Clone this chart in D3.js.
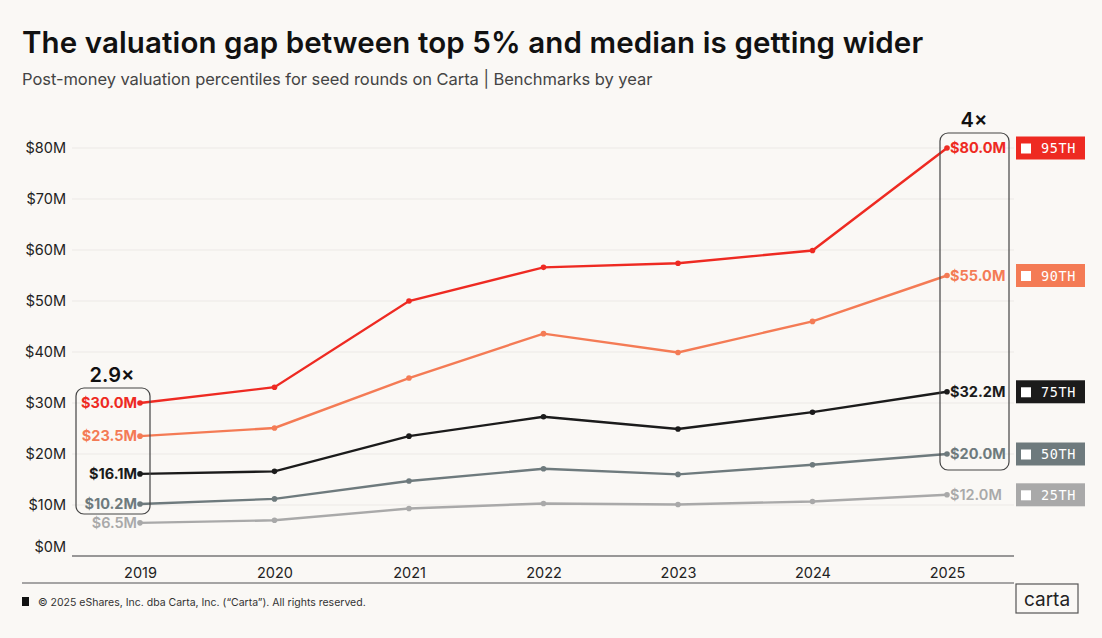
<!DOCTYPE html>
<html>
<head>
<meta charset="utf-8">
<script src="https://cdn.jsdelivr.net/npm/d3@7"></script>
<style>
  body { margin: 0; background: #faf8f5; }
  svg { display: block; font-family: Inter, "Noto Sans", sans-serif; }
</style>
</head>
<body>
<div id="chart"></div>
<script>
const width = 1102;
const height = 638;

// data
const years = ["2019", "2020", "2021", "2022", "2023", "2024", "2025"];
const p95 = [30.0, 33.1, 50.0, 56.6, 57.4, 59.9, 80.0];
const p90 = [23.5, 25.1, 34.9, 43.6, 39.9, 46.0, 55.0];
const p75 = [16.1, 16.6, 23.5, 27.3, 24.9, 28.2, 32.2];
const p50 = [10.2, 11.2, 14.7, 17.1, 16.0, 17.9, 20.0];
const p25 = [6.5, 7.0, 9.3, 10.3, 10.1, 10.7, 12.0];
const seriesNames = ["95TH", "90TH", "75TH", "50TH", "25TH"];
const yTicks = [0, 10, 20, 30, 40, 50, 60, 70, 80];
const ratios = ["2.9×", "4×"];

const colors = {
  "95TH": "#ee2a22",
  "90TH": "#f47b55",
  "75TH": "#1b1b1b",
  "50TH": "#6e7a7d",
  "25TH": "#a9a9a9"
};

const series = [p95, p90, p75, p50, p25].map((values, i) => ({
  name: seriesNames[i],
  values: values
}));

const x = d3.scalePoint().domain(years).range([140, 947]);
const y = d3.scaleLinear().domain([0, 80]).range([556, 148]);

const svg = d3
  .select("#chart")
  .append("svg")
  .attr("width", width)
  .attr("height", height);

svg.append("rect").attr("width", width).attr("height", height).attr("fill", "#faf8f5");

// titles
svg.append("text")
  .attr("x", 22).attr("y", 53)
  .attr("font-size", 29.5).attr("font-weight", 600)
  .attr("letter-spacing", 0.1)
  .attr("fill", "#111")
  .text("The valuation gap between top 5% and median is getting wider");

svg.append("text")
  .attr("x", 22).attr("y", 85)
  .attr("font-size", 16.5)
  .attr("letter-spacing", -0.05)
  .attr("fill", "#444")
  .text("Post-money valuation percentiles for seed rounds on Carta | Benchmarks by year");

// grid
svg.append("g")
  .selectAll("line")
  .data(yTicks.filter(d => d > 0))
  .join("line")
  .attr("x1", 72).attr("x2", 1014)
  .attr("y1", d => y(d)).attr("y2", d => y(d))
  .attr("stroke", "#ece9e6").attr("stroke-width", 1);

// y axis labels
svg.append("g")
  .selectAll("text")
  .data(yTicks)
  .join("text")
  .attr("x", 66)
  .attr("y", d => (d === 0 ? y(d) - 9 : y(d)))
  .attr("dy", "0.35em")
  .attr("text-anchor", "end")
  .attr("font-size", 14.5)
  .attr("fill", "#222")
  .text(d => "$" + d + "M");

// x axis
svg.append("line")
  .attr("x1", 72).attr("x2", 1014)
  .attr("y1", 556).attr("y2", 556)
  .attr("stroke", "#777").attr("stroke-width", 1.5);

const xAxis = d3.axisBottom(x).tickSize(0).tickPadding(12);
svg.append("g")
  .attr("transform", "translate(0,556)")
  .call(xAxis)
  .call(g => g.select(".domain").remove())
  .call(g => g.selectAll("text")
    .attr("font-family", "Inter, 'Noto Sans', sans-serif")
    .attr("font-size", 14.5)
    .attr("fill", "#222"));

// lines
const line = d3.line().x((d, i) => x(years[i])).y(d => y(d));

const drawSeries = s => {
  const g = svg.append("g");
  g.append("path")
    .datum(s.values)
    .attr("d", line)
    .attr("fill", "none")
    .attr("stroke", colors[s.name])
    .attr("stroke-width", 2.4);
  g.selectAll("circle")
    .data(s.values)
    .join("circle")
    .attr("cx", (d, i) => x(years[i]))
    .attr("cy", d => y(d))
    .attr("r", 2.8)
    .attr("fill", colors[s.name]);
};

series.slice().reverse().forEach(drawSeries);

// end labels
const fmt = d => "$" + d.toFixed(1) + "M";
series.forEach(s => {
  const first = s.values[0];
  const last = s.values[s.values.length - 1];
  const lighter = s.name === "25TH";
  svg.append("text")
    .attr("x", x(years[0]) - 3)
    .attr("y", y(first))
    .attr("dy", "0.35em")
    .attr("text-anchor", "end")
    .attr("font-size", 14.5)
    .attr("font-weight", lighter ? 600 : 700)
    .attr("fill", colors[s.name])
    .text(fmt(first));
  svg.append("text")
    .attr("x", x(years[years.length - 1]) + 3)
    .attr("y", y(last))
    .attr("dy", "0.35em")
    .attr("font-size", 14.5)
    .attr("font-weight", lighter ? 600 : 700)
    .attr("fill", colors[s.name])
    .text(fmt(last));
});

// ratio boxes
svg.append("rect")
  .attr("x", 76).attr("y", y(p95[0]) - 15)
  .attr("width", 74).attr("height", y(p50[0]) - y(p95[0]) + 25)
  .attr("rx", 8)
  .attr("fill", "none").attr("stroke", "#444").attr("stroke-width", 1.2);
svg.append("text")
  .attr("x", 112).attr("y", y(p95[0]) - 21)
  .attr("text-anchor", "middle")
  .attr("font-size", 20).attr("font-weight", 600)
  .attr("fill", "#111")
  .text(ratios[0]);

svg.append("rect")
  .attr("x", 940).attr("y", y(p95[6]) - 15)
  .attr("width", 69).attr("height", y(p50[6]) - y(p95[6]) + 31)
  .attr("rx", 8)
  .attr("fill", "none").attr("stroke", "#444").attr("stroke-width", 1.2);
svg.append("text")
  .attr("x", 974).attr("y", y(p95[6]) - 21)
  .attr("text-anchor", "middle")
  .attr("font-size", 20).attr("font-weight", 600)
  .attr("fill", "#111")
  .text(ratios[1]);

// legend tags
series.forEach(s => {
  const cy = y(s.values[s.values.length - 1]);
  const g = svg.append("g").attr("transform", `translate(1016,${cy - 11.5})`);
  g.append("rect").attr("width", 69).attr("height", 23).attr("fill", colors[s.name]);
  g.append("rect").attr("x", 5).attr("y", 7).attr("width", 10).attr("height", 10).attr("fill", "#fff");
  g.append("text")
    .attr("x", 25).attr("y", 12)
    .attr("dy", "0.35em")
    .attr("font-family", "'DejaVu Sans Mono', monospace")
    .attr("font-size", 13.5)
    .attr("letter-spacing", 0.6)
    .attr("fill", "#fff")
    .text(s.name);
});

// footer
svg.append("line")
  .attr("x1", 22).attr("x2", 1014)
  .attr("y1", 583).attr("y2", 583)
  .attr("stroke", "#888").attr("stroke-width", 1.5);
svg.append("rect").attr("x", 22).attr("y", 597).attr("width", 7).attr("height", 9).attr("fill", "#111");
svg.append("text")
  .attr("x", 38).attr("y", 606)
  .attr("font-size", 10.5)
  .attr("fill", "#333")
  .text("© 2025 eShares, Inc. dba Carta, Inc. (\u201CCarta\u201D). All rights reserved.");

svg.append("rect")
  .attr("x", 1016).attr("y", 584).attr("width", 62).attr("height", 29)
  .attr("fill", "none").attr("stroke", "#555").attr("stroke-width", 1.2);
svg.append("text")
  .attr("x", 1047).attr("y", 599)
  .attr("dy", "0.35em")
  .attr("text-anchor", "middle")
  .attr("font-size", 19)
  .attr("fill", "#222")
  .text("carta");
</script>
</body>
</html>
